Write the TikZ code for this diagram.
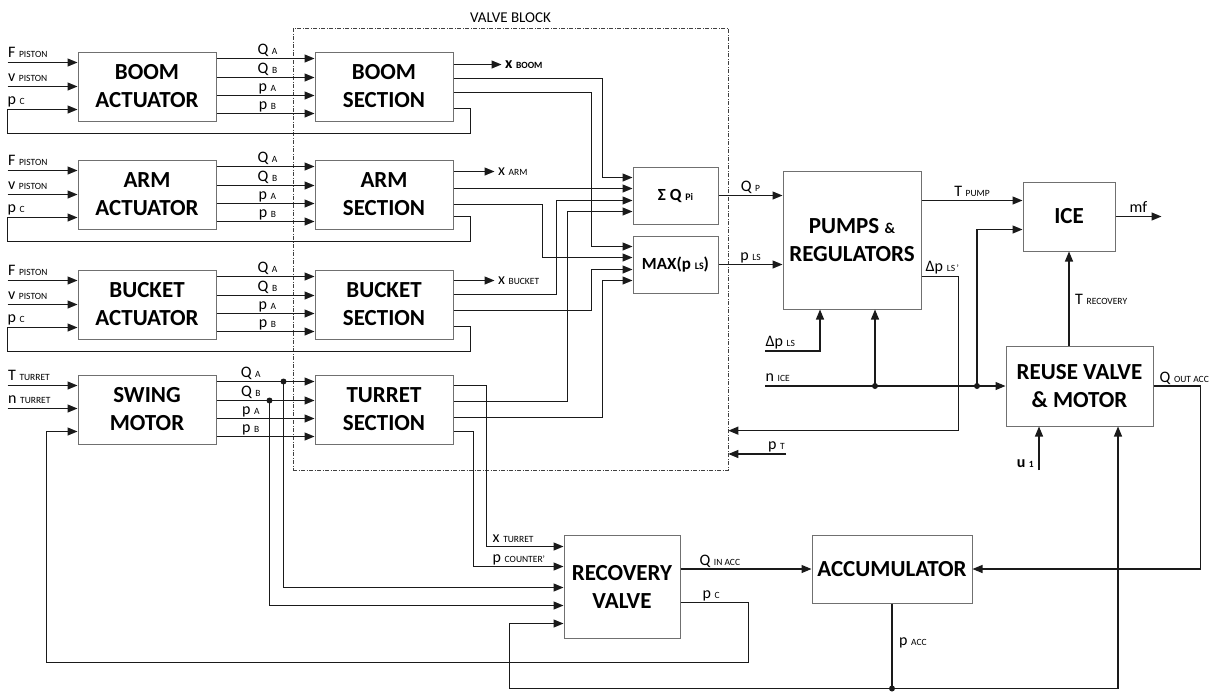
\documentclass[tikz,border=0pt]{standalone}
\usepackage{fontspec}
\setmainfont{Carlito}
\usepackage{tikz}
\usetikzlibrary{arrows.meta,positioning}
\definecolor{BoxEdge}{HTML}{707070}
\definecolor{WireInk}{HTML}{1A1A1A}
\definecolor{FrameInk}{HTML}{404040}
\newcommand{\sg}[2]{{\fontsize{16}{17}\selectfont #1 {\fontsize{9.5}{10}\selectfont #2}}}
\newcommand{\sgb}[2]{{\bfseries\fontsize{16}{17}\selectfont #1 {\fontsize{9.5}{10}\selectfont #2}}}
\tikzset{
    blk/.style={draw=BoxEdge, line width=1pt, fill=white, align=center,
        minimum width=138pt, minimum height=69pt, inner sep=0pt,
        font=\fontsize{23}{28}\selectfont\bfseries},
    sig/.style={draw=WireInk, line width=1.2pt, -{Triangle[length=10pt,width=8pt]}},
    wire/.style={draw=WireInk, line width=1.2pt},
    lbl/.style={inner sep=0pt, anchor=base west, yshift=5pt},
    tag/.style={inner sep=0pt, anchor=base, yshift=4pt},
    jdot/.style={circle, fill=WireInk, inner sep=0pt, minimum size=6pt},
    vframe/.style={draw=FrameInk, line width=0.7pt,
        dash pattern=on 4pt off 1.5pt on 1pt off 1.5pt}
}

\begin{document}
\begin{tikzpicture}[x=1pt, y=-1pt, node distance=38pt]
    \useasboundingbox (0,0) rectangle (1218,691);

    % valve block
    \node[vframe, minimum width=435pt, minimum height=442pt] (vblock) at (510.5,249) {};
    \node[inner sep=0pt, anchor=base, font=\fontsize{15}{16}\selectfont] (vtitle) at ([yshift=5pt]vblock.north) {VALVE BLOCK};

    % actuators and sections
    \node[blk] (boomA) at (147,86.5) {BOOM\\ACTUATOR};
    \node[blk, right=98pt of boomA] (boomS) {BOOM\\SECTION};
    \node[blk, below=of boomA] (armA) {ARM\\ACTUATOR};
    \node[blk, right=98pt of armA] (armS) {ARM\\SECTION};
    \node[blk, below=40pt of armA] (bucketA) {BUCKET\\ACTUATOR};
    \node[blk, right=98pt of bucketA] (bucketS) {BUCKET\\SECTION};
    \node[blk, below=35pt of bucketA] (swingM) {SWING\\MOTOR};
    \node[blk, right=98pt of swingM] (turretS) {TURRET\\SECTION};

    % summing / max blocks
    \node[blk, minimum width=85pt, minimum height=57pt, font=\fontsize{17}{20}\selectfont\bfseries] (sumQ) at (675.5,195.5) {Σ Q {\fontsize{10}{10}\selectfont Pi}};
    \node[blk, minimum width=85pt, minimum height=57pt, font=\fontsize{17}{20}\selectfont\bfseries] (maxP) at (675.5,264.5) {MAX(p {\fontsize{10}{10}\selectfont LS})};

    % right hand blocks
    \node[blk, minimum height=138pt] (pumps) at (852,240) {PUMPS {\fontsize{15}{15}\selectfont\&}\\REGULATORS};
    \node[blk, minimum width=92pt] (ice) at (1069,216.5) {ICE};
    \node[blk, minimum width=147pt, minimum height=80pt] (reuse) at (1079.5,386) {REUSE VALVE\\\& MOTOR};
    \node[blk, minimum width=116pt, minimum height=103pt] (recov) at (622,586.5) {RECOVERY\\VALVE};
    \node[blk, minimum width=160pt, minimum height=68pt] (accum) at (892,569) {ACCUMULATOR};

    % input points
    \foreach \k/\d in {1/11, 2/22, 3/34, 4/45}{
        \coordinate (q\k) at ([yshift=-\d pt]sumQ.north west);
        \coordinate (m\k) at ([yshift=-\d pt]maxP.north west);
    }
    \foreach \k/\d in {1/12, 2/32, 3/53, 4/71, 5/89}{
        \coordinate (r\k) at ([yshift=-\d pt]recov.north west);
    }

    % actuator inputs and p_c loops
    \foreach \a/\s in {boomA/boomS, armA/armS, bucketA/bucketS}{
        \draw[sig] ([xshift=-70pt,yshift=-11pt]\a.north west) node[lbl]{\sg{F}{PISTON}} -- ([yshift=-11pt]\a.north west);
        \draw[sig] ([xshift=-70pt,yshift=-35pt]\a.north west) node[lbl]{\sg{v}{PISTON}} -- ([yshift=-35pt]\a.north west);
        \draw[sig] ([yshift=-57pt]\s.north east) -- ++(17,0) |- ([xshift=-70pt,yshift=-12pt]\a.south west)
            |- ([yshift=-58pt]\a.north west);
        \node[lbl] at ([xshift=-70pt,yshift=-58pt]\a.north west) {\sg{p}{C}};
    }
    \draw[sig] ([xshift=-70pt,yshift=-11pt]swingM.north west) node[lbl]{\sg{T}{TURRET}} -- ([yshift=-11pt]swingM.north west);
    \draw[sig] ([xshift=-70pt,yshift=-34pt]swingM.north west) node[lbl]{\sg{n}{TURRET}} -- ([yshift=-34pt]swingM.north west);

    % flows and pressures into the sections
    \foreach \a/\s/\p in {boomA/boomS/0.52, armA/armS/0.52, bucketA/bucketS/0.52, swingM/turretS/0.35}{
        \foreach \d/\mn/\sx in {7/Q/A, 26/Q/B, 44/p/A, 62/p/B}{
            \draw[sig] ([yshift=-\d pt]\a.north east) -- node[tag, pos=\p]{\sg{\mn}{\sx}} ([yshift=-\d pt]\s.north west);
        }
    }

    % section outputs
    \draw[sig] ([yshift=-13pt]boomS.north east) -- ++(48,0) node[inner sep=0pt, anchor=base west, xshift=3pt, yshift=-3.5pt]{\sgb{x}{BOOM}};
    \draw[sig] ([yshift=-27pt]boomS.north east) -| ([xshift=-30pt]q1) -- (q1);
    \draw[sig] ([yshift=-41pt]boomS.north east) -| ([xshift=-41pt]m1) -- (m1);

    \draw[sig] ([yshift=-12pt]armS.north east) -- ++(41,0) node[inner sep=0pt, anchor=base west, xshift=3pt, yshift=-3.5pt]{\sg{x}{ARM}};
    \draw[sig] (q2 -| armS.east) -- (q2);
    \draw[sig] ([yshift=-45pt]armS.north east) -| ([xshift=-90pt]m2) -- (m2);

    \draw[sig] ([yshift=-11pt]bucketS.north east) -- ++(41,0) node[inner sep=0pt, anchor=base west, xshift=3pt, yshift=-3.5pt]{\sg{x}{BUCKET}};
    \draw[sig] ([yshift=-25pt]bucketS.north east) -| ([xshift=-76pt]q3) -- (q3);
    \draw[sig] ([yshift=-41pt]bucketS.north east) -| ([xshift=-41pt]m3) -- (m3);

    \draw[sig] ([yshift=-11pt]turretS.north east) -- ++(33,0) |- (r1);
    \draw[sig] ([yshift=-27pt]turretS.north east) -| ([xshift=-65pt]q4) -- (q4);
    \draw[sig] ([yshift=-43pt]turretS.north east) -| ([xshift=-30pt]m4) -- (m4);
    \draw[sig] ([yshift=-57pt]turretS.north east) -- ++(20,0) |- (r2);
    \node[lbl] at ([xshift=-71pt,yshift=-1pt]r1) {\sg{x}{TURRET}};
    \node[lbl] at ([xshift=-71pt,yshift=-1pt]r2) {\sg{p}{COUNTER'}};

    % swing flow branches to recovery valve
    \node[jdot] (dqa) at ([xshift=67pt,yshift=-7pt]swingM.north east) {};
    \node[jdot] (dqb) at ([xshift=53pt,yshift=-26pt]swingM.north east) {};
    \draw[sig] (dqa.center) |- (r3);
    \draw[sig] (dqb.center) |- (r4);

    % pumps
    \draw[sig] (sumQ.east) -- node[tag]{\sg{Q}{P}} (sumQ.east -| pumps.west);
    \draw[sig] (maxP.east) -- node[tag]{\sg{p}{LS}} (maxP.east -| pumps.west);
    \coordinate (tp) at ([yshift=-30pt]pumps.north east);
    \draw[sig] (tp) -- node[tag]{\sg{T}{PUMP}} (tp -| ice.west);
    \draw[sig] ([yshift=-106pt]pumps.north east) -- ++(37,0) |- ([yshift=-403pt]vblock.north east);
    \node[inner sep=0pt, anchor=base west] at ([xshift=4pt,yshift=-101pt]pumps.north east) {\sg{Δp}{LS\,'}};

    \coordinate (dpls) at (765,351);
    \draw[sig] (dpls) node[lbl]{\sg{Δp}{LS}} -| ([xshift=-32pt]pumps.south);
    \coordinate (ptank) at (786,454);
    \draw[sig] (ptank) -- (ptank -| vblock.east);
    \node[lbl] at ([xshift=-18pt]ptank) {\sg{p}{T}};

    % engine speed
    \coordinate (nice) at (765,386);
    \draw[sig] (nice) node[lbl]{\sg{n}{ICE}} -- (reuse.west);
    \node[jdot] (j1) at (875,386) {};
    \node[jdot] (j2) at (977,386) {};
    \draw[sig] (j1.center) -- (j1 |- pumps.south);
    \draw[sig] (j2.center) |- ([yshift=-48pt]ice.north west);

    % ICE
    \draw[sig] (ice.east) -- node[tag]{\sg{mf}{}} ++(46,0);
    \draw[sig] (reuse.north -| ice.south) -- (ice.south);
    \node[inner sep=0pt, anchor=base west] at ([xshift=6pt,yshift=-53pt]ice.south) {\sg{T}{RECOVERY}};

    % reuse valve
    \draw[sig] (reuse.east) -- ++(47,0) |- (accum.east);
    \node[inner sep=0pt, anchor=base west] at ([xshift=6pt,yshift=4pt]reuse.east) {\sg{Q}{OUT ACC}};
    \coordinate (u1) at (1039,470);
    \draw[sig] (u1) -- (u1 |- reuse.south);
    \node[inner sep=0pt, anchor=base east] at ([xshift=-5pt,yshift=3pt]u1) {\sgb{u}{1}};

    % recovery valve and accumulator
    \draw[sig] (recov.east |- accum.west) -- node[tag, pos=0.3]{\sg{Q}{IN ACC}} (accum.west);
    \draw[sig] ([yshift=-68pt]recov.north east) -- node[tag, pos=0.45]{\sg{p}{C}} ++(68,0) -- ++(0,60)
        -| ([xshift=-31pt,yshift=-57pt]swingM.north west) -- ([yshift=-57pt]swingM.north west);
    \node[jdot] (jacc) at ([yshift=-85pt]accum.south) {};
    \draw[wire] (accum.south) -- (jacc.center);
    \draw[sig] (jacc.center) -| ([xshift=38.5pt]reuse.south);
    \draw[sig] (jacc.center) -| ([xshift=-54pt]r5) -- (r5);
    \node[inner sep=0pt, anchor=base west] at ([xshift=7pt,yshift=-42pt]accum.south) {\sg{p}{ACC}};
\end{tikzpicture}
\end{document}
